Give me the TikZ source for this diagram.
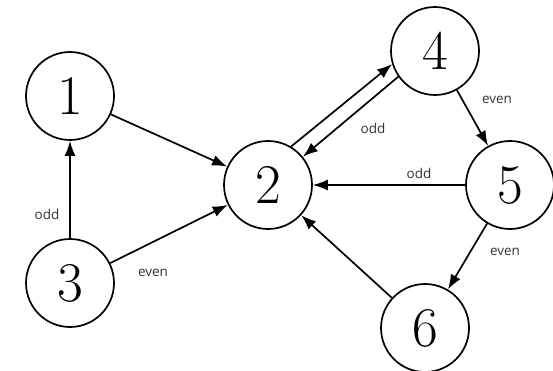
\documentclass[tikz,border=0pt]{standalone}
\usepackage{fontspec}
\newfontfamily\labelfont{Open Sans}
\usetikzlibrary{arrows.meta}
\tikzset{
  state/.style={draw,circle,line width=1.7pt,minimum size=88pt,inner sep=0pt,font=\fontsize{56}{56}\selectfont},
  cond/.style={font=\labelfont\fontsize{13.5}{15}\selectfont,text=black!80,inner sep=1pt},
  >={Latex[length=15pt,width=11pt]}
}

\begin{document}
\begin{tikzpicture}[x=1pt,y=-1pt,line width=1.7pt]
      \useasboundingbox (0,0) rectangle (553,371);

      \node[state] (N1) at (70,96) {1};
      \node[state] (N2) at (268,185) {2};
      \node[state] (N3) at (70,283) {3};
      \node[state] (N4) at (435,51) {4};
      \node[state] (N5) at (510,185) {5};
      \node[state] (N6) at (425,328) {6};

      \node[cond] (L31) at (47,214) {odd};
      \node[cond] (L32) at (153,273) {even};
      \node[cond] (L42) at (373,128) {odd};
      \node[cond] (L45) at (497,100) {even};
      \node[cond] (L52) at (419,173) {odd};
      \node[cond] (L56) at (505,252) {even};

      \path [->](N1) edge (N2);
      \path [->](N3) edge (N1);
      \path [->](N3) edge (N2);
      \path [->](N2.59) edge (N4.197);
      \path [->](N4.215) edge (N2.39);
      \path [->](N4) edge (N5);
      \path [->](N5) edge (N2);
      \path [->](N5) edge (N6);
      \path [->](N6) edge (N2);
\end{tikzpicture}
\end{document}
